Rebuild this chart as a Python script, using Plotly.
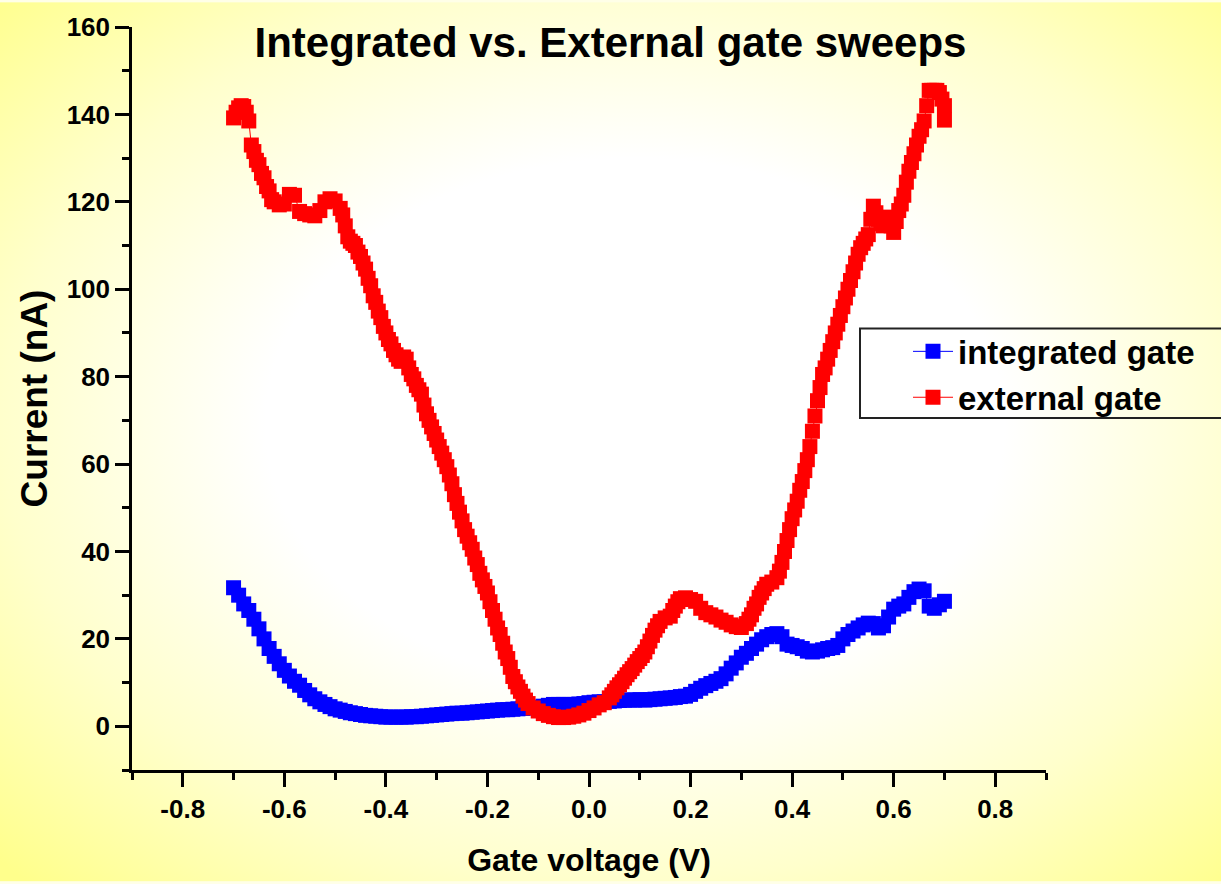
import base64
import plotly.graph_objects as go

# ---------------- data ----------------
v_external = [-0.700, -0.695, -0.690, -0.685, -0.680, -0.675, -0.670,
              -0.665, -0.660, -0.655, -0.650, -0.645, -0.640, -0.635, -0.630, -0.625, -0.620,
              -0.610, -0.600, -0.590, -0.580, -0.570, -0.560, -0.550, -0.540, -0.530, -0.520,
              -0.510, -0.500, -0.490, -0.485, -0.480, -0.475, -0.470, -0.465, -0.460, -0.455,
              -0.450, -0.445, -0.440, -0.435, -0.430, -0.425, -0.420, -0.415, -0.410, -0.405,
              -0.400, -0.395, -0.390, -0.385, -0.380, -0.375, -0.370, -0.365, -0.360, -0.355,
              -0.350, -0.345, -0.340, -0.335, -0.330, -0.325, -0.320, -0.315, -0.310, -0.305,
              -0.300, -0.295, -0.290, -0.285, -0.280, -0.275, -0.270, -0.265, -0.260, -0.255,
              -0.250, -0.245, -0.240, -0.235, -0.230, -0.225, -0.220, -0.215, -0.210, -0.205,
              -0.200, -0.195, -0.190, -0.185, -0.180, -0.175, -0.170, -0.165, -0.160, -0.155,
              -0.150, -0.145, -0.140, -0.135, -0.130, -0.125, -0.120, -0.110, -0.100, -0.090,
              -0.080, -0.070, -0.060, -0.050, -0.040, -0.030, -0.020, -0.010, 0.000, 0.010,
              0.020, 0.030, 0.040, 0.045, 0.050, 0.055, 0.060, 0.065, 0.070, 0.075,
              0.080, 0.085, 0.090, 0.095, 0.100, 0.105, 0.110, 0.115, 0.120, 0.125,
              0.130, 0.135, 0.140, 0.150, 0.160, 0.165, 0.170, 0.175, 0.180, 0.190,
              0.200, 0.210, 0.220, 0.230, 0.240, 0.250, 0.260, 0.270, 0.280, 0.290,
              0.300, 0.310, 0.315, 0.320, 0.325, 0.330, 0.335, 0.340, 0.345, 0.350,
              0.360, 0.370, 0.375, 0.380, 0.385, 0.390, 0.395, 0.400, 0.405, 0.410,
              0.415, 0.420, 0.425, 0.430, 0.435, 0.440, 0.445, 0.450, 0.455, 0.460,
              0.465, 0.470, 0.475, 0.480, 0.485, 0.490, 0.495, 0.500, 0.505, 0.510,
              0.515, 0.520, 0.525, 0.530, 0.535, 0.540, 0.545, 0.550, 0.555, 0.560,
              0.565, 0.570, 0.575, 0.580, 0.585, 0.590, 0.595, 0.600, 0.605, 0.610,
              0.615, 0.620, 0.625, 0.630, 0.635, 0.640, 0.645, 0.650, 0.655, 0.660,
              0.665, 0.670, 0.675, 0.680, 0.685, 0.690, 0.695, 0.700, 0.700]
i_external = [139.2, 140.5, 141.5, 142.0, 141.8, 140.5, 138.5,
              133.0, 131.5, 129.5, 128.5, 126.5, 125.5, 123.5, 122.5, 120.5, 120.0,
              119.3, 119.5, 121.7, 121.5, 117.8, 117.3, 117.0, 116.8, 118.0, 120.0,
              120.7, 120.2, 118.5, 117.0, 114.5, 112.0, 111.0, 110.5, 110.0, 108.5,
              107.5, 106.0, 104.6, 102.5, 100.8, 98.5, 97.0, 95.0, 93.5, 91.5,
              90.0, 88.5, 87.5, 86.0, 85.0, 84.0, 83.5, 84.5, 84.0, 82.0,
              80.5, 79.5, 78.0, 77.0, 76.0, 73.5, 71.5, 70.0, 68.5, 67.0,
              65.5, 64.0, 62.5, 61.0, 59.4, 57.5, 55.5, 53.0, 51.0, 49.0,
              47.0, 45.0, 43.5, 42.0, 40.5, 38.5, 37.0, 35.0, 33.5, 32.0,
              30.5, 28.5, 26.5, 24.5, 22.5, 21.0, 19.0, 17.0, 15.5, 13.5,
              11.4, 10.2, 9.0, 8.0, 6.9, 6.0, 5.2, 4.2, 3.5, 2.9,
              2.5, 2.2, 2.0, 2.0, 2.1, 2.3, 2.6, 3.0, 3.6, 4.2,
              4.9, 5.4, 6.5, 7.2, 8.0, 8.8, 9.5, 10.2, 11.0, 11.8,
              12.5, 13.2, 14.0, 14.8, 15.5, 16.2, 17.0, 18.2, 19.5, 20.8,
              22.0, 23.0, 24.0, 24.8, 25.2, 26.5, 27.5, 28.5, 29.2, 29.4,
              29.0, 28.6, 27.0, 26.0, 25.5, 25.0, 24.3, 23.8, 23.2, 22.8,
              22.6, 23.5, 24.5, 25.5, 27.0, 28.0, 29.5, 30.5, 31.5, 32.5,
              33.0, 34.0, 35.5, 37.5, 40.0, 42.5, 45.0, 47.5, 49.5, 51.5,
              54.0, 56.0, 58.5, 61.0, 64.0, 67.5, 71.0, 74.5, 77.5, 80.5,
              82.0, 84.0, 86.0, 88.0, 90.0, 92.0, 94.0, 96.0, 98.0, 100.0,
              102.0, 104.0, 106.0, 108.0, 109.5, 110.5, 111.5, 112.5, 116.0, 119.0,
              117.5, 116.0, 115.0, 114.5, 115.5, 116.5, 114.5, 113.0, 115.5, 118.0,
              119.5, 121.5, 124.5, 127.0, 129.0, 131.0, 133.0, 135.0, 136.5, 138.5,
              142.0, 145.5, 145.5, 145.5, 145.5, 145.0, 143.5, 142.0, 138.7]

v_integrated = [-0.70, -0.69, -0.68, -0.67, -0.66, -0.65, -0.64, -0.63, -0.62, -0.61,
                -0.60, -0.59, -0.58, -0.57, -0.56, -0.55, -0.54, -0.53, -0.52, -0.51,
                -0.50, -0.49, -0.48, -0.47, -0.46, -0.45, -0.44, -0.43, -0.42, -0.41,
                -0.40, -0.39, -0.38, -0.37, -0.36, -0.35, -0.34, -0.33, -0.32, -0.31,
                -0.30, -0.29, -0.28, -0.27, -0.26, -0.25, -0.24, -0.23, -0.22, -0.21,
                -0.20, -0.19, -0.18, -0.17, -0.16, -0.15, -0.14, -0.13, -0.12, -0.11,
                -0.10, -0.09, -0.08, -0.07, -0.06, -0.05, -0.04, -0.03, -0.02, -0.01,
                0.00, 0.01, 0.02, 0.03, 0.04, 0.05, 0.06, 0.07, 0.08, 0.09,
                0.10, 0.11, 0.12, 0.13, 0.14, 0.15, 0.16, 0.17, 0.18, 0.19,
                0.20, 0.21, 0.22, 0.23, 0.24, 0.25, 0.26, 0.27, 0.28, 0.29,
                0.30, 0.31, 0.32, 0.33, 0.34, 0.35, 0.36, 0.37, 0.38, 0.39,
                0.40, 0.41, 0.42, 0.43, 0.44, 0.45, 0.46, 0.47, 0.48, 0.49,
                0.50, 0.51, 0.52, 0.53, 0.54, 0.55, 0.56, 0.57, 0.58, 0.59,
                0.60, 0.61, 0.62, 0.63, 0.64, 0.65, 0.66, 0.67, 0.68, 0.69,
                0.70]
i_integrated = [31.7, 30.0, 28.0, 26.5, 24.5, 22.3, 20.0, 17.8, 16.0, 14.3,
                12.8, 11.5, 10.3, 9.4, 8.2, 7.2, 6.3, 5.6, 5.0, 4.5,
                4.0, 3.7, 3.4, 3.1, 2.9, 2.7, 2.5, 2.4, 2.3, 2.2,
                2.1, 2.1, 2.1, 2.1, 2.1, 2.2, 2.2, 2.3, 2.4, 2.5,
                2.6, 2.7, 2.8, 2.9, 3.0, 3.0, 3.1, 3.2, 3.3, 3.4,
                3.5, 3.6, 3.7, 3.8, 3.8, 3.9, 4.0, 4.1, 4.2, 4.3,
                4.4, 4.6, 4.8, 5.0, 5.0, 5.0, 5.0, 5.0, 5.1, 5.2,
                5.4, 5.5, 5.6, 5.6, 5.7, 5.8, 5.9, 6.0, 6.0, 6.0,
                6.1, 6.0, 6.1, 6.2, 6.3, 6.4, 6.5, 6.6, 6.8, 6.9,
                7.3, 8.0, 8.7, 9.3, 9.8, 10.3, 10.9, 12.0, 13.3, 14.5,
                15.8, 16.7, 17.8, 18.8, 19.8, 20.5, 21.0, 21.2, 20.5, 18.8,
                18.5, 18.2, 17.8, 17.2, 17.0, 17.2, 17.5, 17.8, 18.0, 18.5,
                20.0, 21.0, 21.8, 22.5, 23.2, 23.6, 23.5, 22.5, 23.0, 25.0,
                26.8, 27.5, 28.0, 29.5, 30.8, 31.4, 31.0, 27.5, 27.0, 27.8,
                28.6]

series_names = ["integrated gate", "external gate"]
x_ticks = [-0.8, -0.6, -0.4, -0.2, 0.0, 0.2, 0.4, 0.6, 0.8]
x_tick_labels = ["-0.8", "-0.6", "-0.4", "-0.2", "0.0", "0.2", "0.4", "0.6", "0.8"]
y_ticks = [0, 20, 40, 60, 80, 100, 120, 140, 160]
y_tick_labels = ["0", "20", "40", "60", "80", "100", "120", "140", "160"]

# ---------------- layout constants ----------------
W, H = 1221, 884
ML, MR, MT, MB = 132, 175, 25, 112
PW, PH = W - ML - MR, H - MT - MB
FONT = "Arial, Liberation Sans, sans-serif"

svg = f"""<svg xmlns='http://www.w3.org/2000/svg' width='{W}' height='{H}' viewBox='0 0 {W} {H}' preserveAspectRatio='none'>
<defs><radialGradient id='g' cx='0.52' cy='0.48' r='0.72' gradientUnits='objectBoundingBox'>
<stop offset='0' stop-color='#FFFFFF'/><stop offset='0.42' stop-color='#FFFFFF'/>
<stop offset='0.72' stop-color='#FFFFCC'/><stop offset='1' stop-color='#FFFF8C'/>
</radialGradient></defs><rect x='0' y='0' width='{W}' height='{H}' fill='url(#g)'/></svg>"""
bg_src = "data:image/svg+xml;base64," + base64.b64encode(svg.encode()).decode()

fig = go.Figure()
fig.add_trace(go.Scatter(
    x=v_integrated, y=i_integrated, name=series_names[0], mode="lines+markers",
    line=dict(color="#0000FF", width=1),
    marker=dict(symbol="square", size=15, color="#0000FF", line=dict(width=0))))
fig.add_trace(go.Scatter(
    x=v_external, y=i_external, name=series_names[1], mode="lines+markers",
    line=dict(color="#FF0000", width=1),
    marker=dict(symbol="square", size=15, color="#FF0000", line=dict(width=0))))

axis_common = dict(
    showline=True, linecolor="black", linewidth=2.5, showgrid=False, zeroline=False,
    ticks="outside", ticklen=14, tickwidth=2.5, tickcolor="black", mirror=False,
    tickfont=dict(family=FONT, size=26, color="black", weight="bold"),
)

fig.update_layout(
    width=W, height=H,
    margin=dict(l=ML, r=MR, t=MT, b=MB),
    paper_bgcolor="#FFFFE8", plot_bgcolor="rgba(0,0,0,0)",
    images=[dict(source=bg_src, xref="paper", yref="paper",
                 x=-ML / PW, y=1 + MT / PH, sizex=W / PW, sizey=H / PH,
                 xanchor="left", yanchor="top", sizing="stretch", layer="below")],
    title=dict(text="<b>Integrated vs. External gate sweeps</b>",
               font=dict(family=FONT, size=42, color="black"),
               x=0.5, xref="container", xanchor="center",
               y=1 - 42 / H, yref="container", yanchor="middle"),
    xaxis=dict(range=[-0.9, 0.9], tickvals=x_ticks, ticktext=x_tick_labels,
               minor=dict(dtick=0.1, tick0=0, ticks="outside", ticklen=7, tickwidth=2.5, tickcolor="black"),
               title=dict(text="<b>Gate voltage (V)</b>", standoff=26,
                          font=dict(family=FONT, size=32, color="black")),
               **axis_common),
    yaxis=dict(range=[-10, 160], tickvals=y_ticks, ticktext=y_tick_labels,
               minor=dict(dtick=10, tick0=0, ticks="outside", ticklen=7, tickwidth=2.5, tickcolor="black"),
               title=dict(text="<b>Current (nA)</b>", standoff=8,
                          font=dict(family=FONT, size=37, color="black")),
               **axis_common),
    legend=dict(x=(908 - ML) / PW, y=(H - MB - 323) / PH, xanchor="left", yanchor="top",
                bgcolor="rgba(0,0,0,0)", borderwidth=0, traceorder="normal",
                itemwidth=40,
                font=dict(family=FONT, size=33, color="black", weight="bold")),
    shapes=[dict(type="rect", xref="paper", yref="paper",
                 x0=(860 - ML) / PW, x1=(1230 - ML) / PW,
                 y0=(H - MB - 418) / PH, y1=(H - MB - 328) / PH,
                 line=dict(color="#222222", width=2), fillcolor="rgba(0,0,0,0)", layer="above")],
    showlegend=True,
)

fig.write_html("out.html")
